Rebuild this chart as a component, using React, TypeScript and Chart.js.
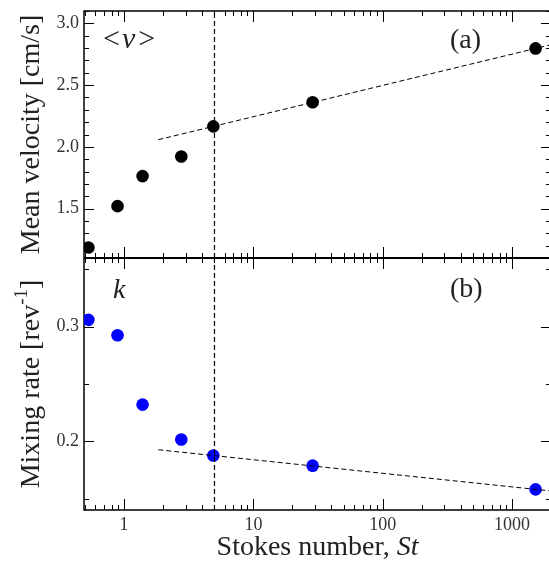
import React, { useEffect, useRef } from "react";
import { Chart, registerables } from "chart.js";

Chart.register(...registerables);

// ---- data ----
const stokes = [0.53, 0.89, 1.39, 2.77, 4.9, 28.7, 1520];
const meanVelocity = [1.185, 1.52, 1.763, 1.922, 2.166, 2.361, 2.797];
const mixingRate = [0.306, 0.2925, 0.232, 0.2015, 0.1876, 0.1787, 0.158];
const fitStokes = [1.84, 2000];
const velocityFit = [2.058, 2.827];
const mixingFit = [0.1926, 0.1566];
const criticalStokes = 5;
const xRange = [0.49, 2000];
const velocityRange = [1.1, 3.1];
const mixingRange = [0.14, 0.36];
const xTickLabels = [1, 10, 100, 1000];
const velocityTicks = [1.5, 2.0, 2.5, 3.0];
const mixingTicks = [0.2, 0.3];
const velocityMinorStep = 0.1;
const mixingMinorStep = 0.05;

const SERIF = '"Liberation Serif", "Times New Roman", serif';
const CANVAS_W = 552;
const CANVAS_H = 561;

const toPoints = (xs: number[], ys: number[]) => xs.map((x, i) => ({ x, y: ys[i] }));

const framePlugin = {
  id: "frameTicks",
  beforeDatasetsDraw(chart: any) {
    const { ctx, chartArea: ca, scales } = chart;
    const x = scales.x;
    const yT = scales.yTop;
    const yB = scales.yBot;
    const mid = yT.bottom;
    ctx.save();
    ctx.strokeStyle = "#000";
    ctx.lineWidth = 1;
    ctx.beginPath();
    for (let e = -1; e <= 4; e++) {
      for (let m = 1; m <= 9; m++) {
        const v = m * Math.pow(10, e);
        if (v < x.min || v > x.max) continue;
        const px = Math.round(x.getPixelForValue(v)) + 0.5;
        const len = m === 1 ? 11 : 5;
        ctx.moveTo(px, ca.top);
        ctx.lineTo(px, ca.top + len);
        ctx.moveTo(px, mid - len);
        ctx.lineTo(px, mid + len);
        ctx.moveTo(px, ca.bottom);
        ctx.lineTo(px, ca.bottom - len);
      }
    }
    const yTicks = (scale: any, step: number, majors: number[]) => {
      const start = Math.ceil(scale.min / step - 1e-6);
      const end = Math.floor(scale.max / step + 1e-6);
      for (let i = start; i <= end; i++) {
        const v = i * step;
        const py = Math.round(scale.getPixelForValue(v)) + 0.5;
        const major = majors.some((mv) => Math.abs(mv - v) < 1e-6);
        const len = major ? 10 : 5;
        ctx.moveTo(ca.left, py);
        ctx.lineTo(ca.left + len, py);
        ctx.moveTo(ca.right, py);
        ctx.lineTo(ca.right - len, py);
      }
    };
    yTicks(yT, velocityMinorStep, velocityTicks);
    yTicks(yB, mixingMinorStep, mixingTicks);
    ctx.stroke();
    ctx.lineWidth = 1.5;
    ctx.strokeRect(ca.left, ca.top, ca.right - ca.left, ca.bottom - ca.top);
    ctx.lineWidth = 2;
    ctx.beginPath();
    ctx.moveTo(ca.left, mid);
    ctx.lineTo(ca.right, mid);
    ctx.stroke();
    ctx.restore();
  },
  afterDraw(chart: any) {
    const { ctx, chartArea: ca, scales } = chart;
    const yB = scales.yBot;
    const mid = scales.yTop.bottom;
    ctx.save();
    ctx.fillStyle = "#222";
    ctx.textBaseline = "alphabetic";
    ctx.textAlign = "left";
    const normal = `28px ${SERIF}`;
    const italic = `italic 28px ${SERIF}`;
    const small = `19px ${SERIF}`;
    type Run = [string, string, number?, number?];
    const drawRuns = (runs: Run[], x: number, y: number, center = false) => {
      let total = 0;
      for (const [t, f, , gap] of runs) {
        ctx.font = f;
        total += ctx.measureText(t).width + (gap || 0);
      }
      let cx = center ? x - total / 2 : x;
      for (const [t, f, dy, gap] of runs) {
        ctx.font = f;
        ctx.fillText(t, cx, y + (dy || 0));
        cx += ctx.measureText(t).width + (gap || 0);
      }
    };
    // x-axis title
    drawRuns(
      [
        ["Stokes number, ", normal],
        ["St", italic],
      ],
      (ca.left + ca.right) / 2,
      555,
      true
    );
    // lower y-axis title with superscript
    ctx.save();
    ctx.translate(31.8, (yB.top + yB.bottom) / 2);
    ctx.rotate(-Math.PI / 2);
    ctx.textBaseline = "middle";
    drawRuns(
      [
        ["Mixing rate [rev", normal],
        ["-1", small, -10],
        ["]", normal],
      ],
      0,
      0,
      true
    );
    ctx.restore();
    // panel annotations
    ctx.textBaseline = "alphabetic";
    drawRuns(
      [
        ["<", `30px ${SERIF}`, 0, 2],
        ["v", `italic 30px ${SERIF}`, 0, 3],
        [">", `30px ${SERIF}`],
      ],
      ca.left + 19,
      ca.top + 37
    );
    drawRuns([["(a)", normal]], ca.right - 101, ca.top + 37);
    drawRuns([["k", italic]], ca.left + 29, mid + 40);
    drawRuns([["(b)", normal]], ca.right - 101, mid + 39);
    ctx.restore();
  },
};

export default function App() {
  const canvasRef = useRef<HTMLCanvasElement | null>(null);

  useEffect(() => {
    if (!canvasRef.current) return;
    const tickFont = { family: SERIF, size: 18 };
    const titleFont = { family: SERIF, size: 28 };
    const zeroPad = (scale: any) => {
      scale.paddingTop = 0;
      scale.paddingBottom = 0;
      scale.paddingLeft = 0;
      scale.paddingRight = 0;
    };
    const dashed = {
      showLine: true,
      borderColor: "#000",
      borderWidth: 1,
      borderDash: [5, 3],
      pointRadius: 0,
    };
    const vertical = { ...dashed, borderWidth: 1.2, borderDash: [5, 3] };
    const chart = new Chart(canvasRef.current, {
      type: "scatter",
      data: {
        datasets: [
          {
            label: "critical St (a)",
            data: [
              { x: criticalStokes, y: velocityRange[0] },
              { x: criticalStokes, y: velocityRange[1] },
            ],
            yAxisID: "yTop",
            ...vertical,
          },
          {
            label: "critical St (b)",
            data: [
              { x: criticalStokes, y: mixingRange[0] },
              { x: criticalStokes, y: mixingRange[1] },
            ],
            yAxisID: "yBot",
            ...vertical,
          },
          { label: "velocity fit", data: toPoints(fitStokes, velocityFit), yAxisID: "yTop", ...dashed },
          { label: "mixing fit", data: toPoints(fitStokes, mixingFit), yAxisID: "yBot", ...dashed },
          {
            label: "<v>",
            data: toPoints(stokes, meanVelocity),
            yAxisID: "yTop",
            showLine: false,
            pointRadius: 6.3,
            pointBackgroundColor: "#000",
            pointBorderColor: "#000",
            pointBorderWidth: 0,
          },
          {
            label: "k",
            data: toPoints(stokes, mixingRate),
            yAxisID: "yBot",
            showLine: false,
            pointRadius: 6.3,
            pointBackgroundColor: "#0000ff",
            pointBorderColor: "#0000ff",
            pointBorderWidth: 0,
          },
        ],
      },
      options: {
        animation: false,
        responsive: false,
        maintainAspectRatio: false,
        devicePixelRatio: 1,
        layout: { autoPadding: false, padding: { top: 11, right: 1, left: 0, bottom: 0 } },
        plugins: { legend: { display: false }, tooltip: { enabled: false } },
        scales: {
          x: {
            type: "logarithmic",
            position: "bottom",
            min: xRange[0],
            max: xRange[1],
            grid: { display: false, drawTicks: false },
            border: { display: false },
            afterBuildTicks: (scale: any) => {
              scale.ticks = xTickLabels.map((v) => ({ value: v }));
            },
            ticks: {
              font: tickFont,
              color: "#333",
              padding: 4,
              maxRotation: 0,
              autoSkip: false,
              callback: (v: any) => String(v),
            },
            afterFit: (scale: any) => {
              scale.height = 51;
              zeroPad(scale);
            },
          },
          yBot: {
            type: "linear",
            position: "left",
            stack: "panels",
            stackWeight: 252,
            min: mixingRange[0],
            max: mixingRange[1],
            grid: { display: false, drawTicks: false },
            border: { display: false },
            afterBuildTicks: (scale: any) => {
              scale.ticks = mixingTicks.map((v) => ({ value: v }));
            },
            ticks: { font: tickFont, color: "#333", padding: 5, callback: (v: any) => Number(v).toFixed(1) },
            afterFit: (scale: any) => {
              scale.width = 84;
              zeroPad(scale);
            },
          },
          yTop: {
            type: "linear",
            position: "left",
            stack: "panels",
            stackWeight: 247,
            min: velocityRange[0],
            max: velocityRange[1],
            grid: { display: false, drawTicks: false },
            border: { display: false },
            afterBuildTicks: (scale: any) => {
              scale.ticks = velocityTicks.map((v) => ({ value: v }));
            },
            ticks: { font: tickFont, color: "#333", padding: 5, callback: (v: any) => Number(v).toFixed(1) },
            title: {
              display: true,
              text: "Mean velocity [cm/s]",
              font: titleFont,
              color: "#222",
              padding: { top: 15, bottom: 0 },
            },
            afterFit: (scale: any) => {
              scale.width = 84;
              zeroPad(scale);
            },
          },
        },
      },
      plugins: [framePlugin],
    } as any);
    return () => chart.destroy();
  }, []);

  return (
    <div
      style={{
        position: "fixed",
        left: 0,
        top: 0,
        width: 549,
        height: 561,
        overflow: "hidden",
        background: "#fff",
      }}
    >
      <canvas
        ref={canvasRef}
        width={CANVAS_W}
        height={CANVAS_H}
        style={{ display: "block", width: CANVAS_W, height: CANVAS_H }}
      />
    </div>
  );
}
